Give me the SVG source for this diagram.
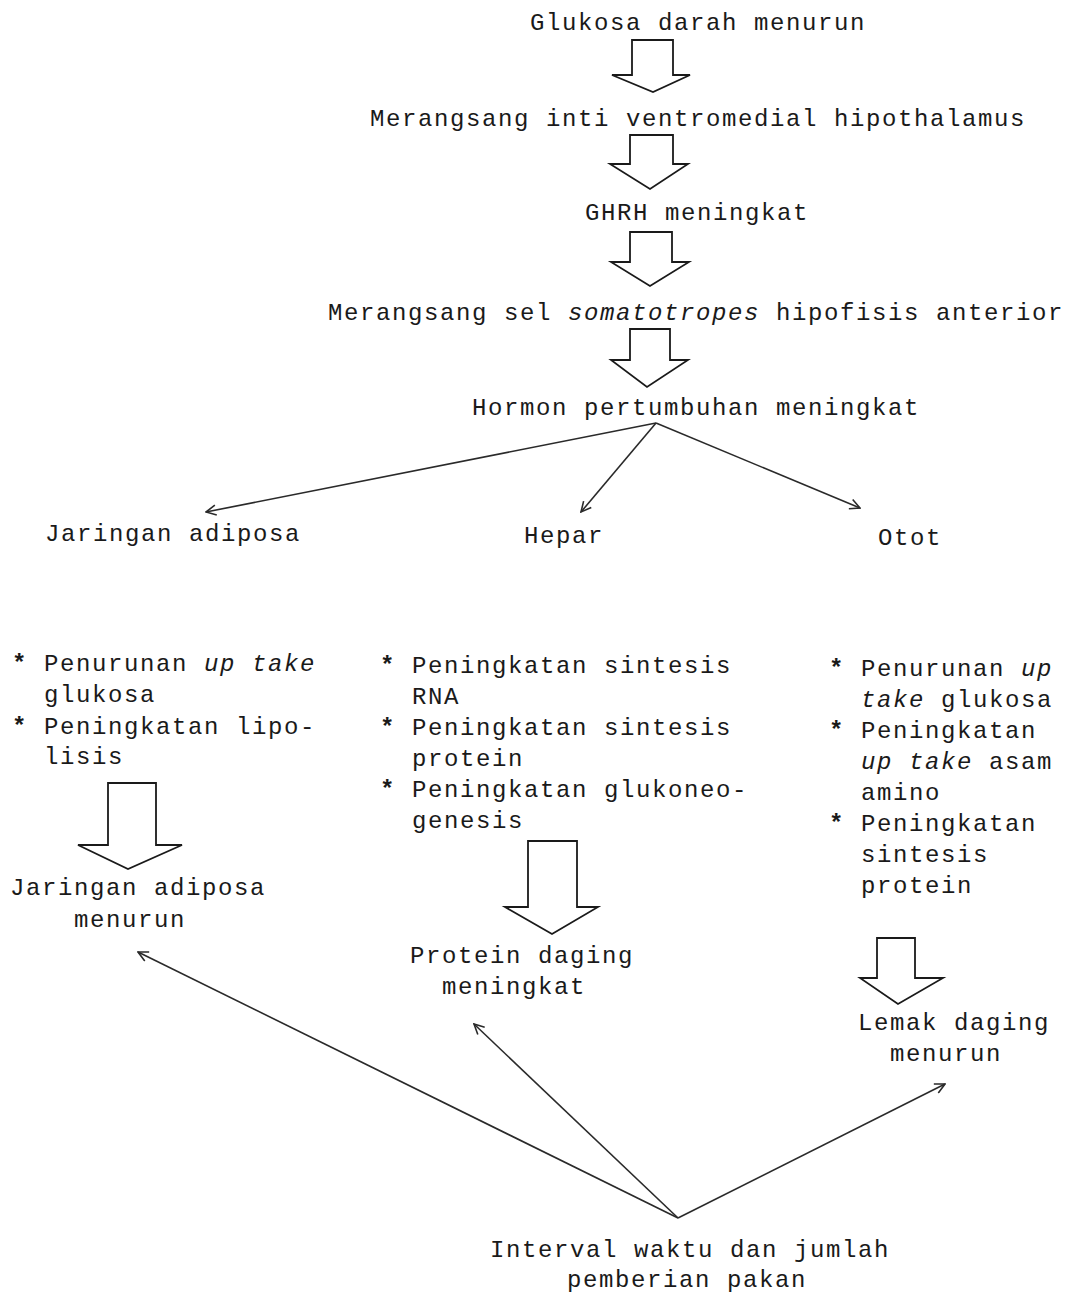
<svg xmlns="http://www.w3.org/2000/svg" width="1072" height="1296" viewBox="0 0 1072 1296">
<defs>
<style>
text{font-family:"Liberation Mono","DejaVu Sans Mono",monospace;font-size:24px;letter-spacing:1.6px;fill:#1a1a1a}
.i{font-style:italic}
.s{font-weight:bold}
.blk{fill:#fff;stroke:#1a1a1a;stroke-width:1.8;stroke-linejoin:miter}
.ln{fill:none;stroke:#2a2a2a;stroke-width:1.6}
</style>
<marker id="ah" viewBox="0 0 12 12" refX="11" refY="6" markerWidth="12" markerHeight="12" markerUnits="userSpaceOnUse" orient="auto">
<path d="M1,1 L11,6 L1,11" fill="none" stroke="#2a2a2a" stroke-width="1.6"/>
</marker>
</defs>
<rect width="1072" height="1296" fill="#fff"/>

<g id="n1"><text x="530" y="30">Glukosa darah menurun</text></g>
<g id="n2"><text x="370" y="126">Merangsang inti ventromedial hipothalamus</text></g>
<g id="n3"><text x="585" y="220">GHRH meningkat</text></g>
<g id="n4"><text x="328" y="320">Merangsang sel <tspan class="i">somatotropes</tspan> hipofisis anterior</text></g>
<g id="n5"><text x="472" y="415">Hormon pertumbuhan meningkat</text></g>
<g id="n6"><text x="45" y="541">Jaringan adiposa</text></g>
<g id="n7"><text x="524" y="543">Hepar</text></g>
<g id="n8"><text x="878" y="545">Otot</text></g>

<g id="n9">
<text x="12" y="671"><tspan class="s">*</tspan> Penurunan <tspan class="i">up take</tspan></text>
<text x="44" y="702">glukosa</text>
<text x="12" y="734"><tspan class="s">*</tspan> Peningkatan lipo-</text>
<text x="44" y="764">lisis</text>
</g>
<g id="n10">
<text x="380" y="673"><tspan class="s">*</tspan> Peningkatan sintesis</text>
<text x="412" y="704">RNA</text>
<text x="380" y="735"><tspan class="s">*</tspan> Peningkatan sintesis</text>
<text x="412" y="766">protein</text>
<text x="380" y="797"><tspan class="s">*</tspan> Peningkatan glukoneo-</text>
<text x="412" y="828">genesis</text>
</g>
<g id="n11">
<text x="829" y="676"><tspan class="s">*</tspan> Penurunan <tspan class="i">up</tspan></text>
<text x="861" y="707"><tspan class="i">take</tspan> glukosa</text>
<text x="829" y="738"><tspan class="s">*</tspan> Peningkatan</text>
<text x="861" y="769"><tspan class="i">up take</tspan> asam</text>
<text x="861" y="800">amino</text>
<text x="829" y="831"><tspan class="s">*</tspan> Peningkatan</text>
<text x="861" y="862">sintesis</text>
<text x="861" y="893">protein</text>
</g>
<g id="n12">
<text x="10" y="895">Jaringan adiposa</text>
<text x="74" y="927">menurun</text>
</g>
<g id="n13">
<text x="410" y="963">Protein daging</text>
<text x="442" y="994">meningkat</text>
</g>
<g id="n14">
<text x="858" y="1030">Lemak daging</text>
<text x="890" y="1061">menurun</text>
</g>
<g id="n15">
<text x="490" y="1257">Interval waktu dan jumlah</text>
<text x="567" y="1287">pemberian pakan</text>
</g>

<g id="connectors">
<path class="blk" d="M632,40 L673,40 L673,75 L690,75 L653,92 L612,75 L632,75 Z"/>
<path class="blk" d="M630,135 L673,135 L673,164 L688,164 L650,189 L610,164 L630,164 Z"/>
<path class="blk" d="M630,232 L672,232 L672,262 L689,262 L650,286 L611,262 L630,262 Z"/>
<path class="blk" d="M630,329 L670,329 L670,360 L688,360 L647,387 L611,360 L630,360 Z"/>
<path class="blk" d="M108,783 L156,783 L156,845 L182,845 L128,869 L78,845 L108,845 Z"/>
<path class="blk" d="M528,841 L577,841 L577,907 L598,907 L552,934 L505,907 L528,907 Z"/>
<path class="blk" d="M877,938 L915,938 L915,978 L943,978 L898,1004 L860,978 L877,978 Z"/>
<line class="ln" x1="656" y1="423" x2="206" y2="512" marker-end="url(#ah)"/>
<line class="ln" x1="656" y1="423" x2="581" y2="512" marker-end="url(#ah)"/>
<line class="ln" x1="656" y1="423" x2="860" y2="508" marker-end="url(#ah)"/>
<line class="ln" x1="678" y1="1218" x2="138" y2="952" marker-end="url(#ah)"/>
<line class="ln" x1="678" y1="1218" x2="474" y2="1024" marker-end="url(#ah)"/>
<line class="ln" x1="678" y1="1218" x2="945" y2="1084" marker-end="url(#ah)"/>
</g>
</svg>
